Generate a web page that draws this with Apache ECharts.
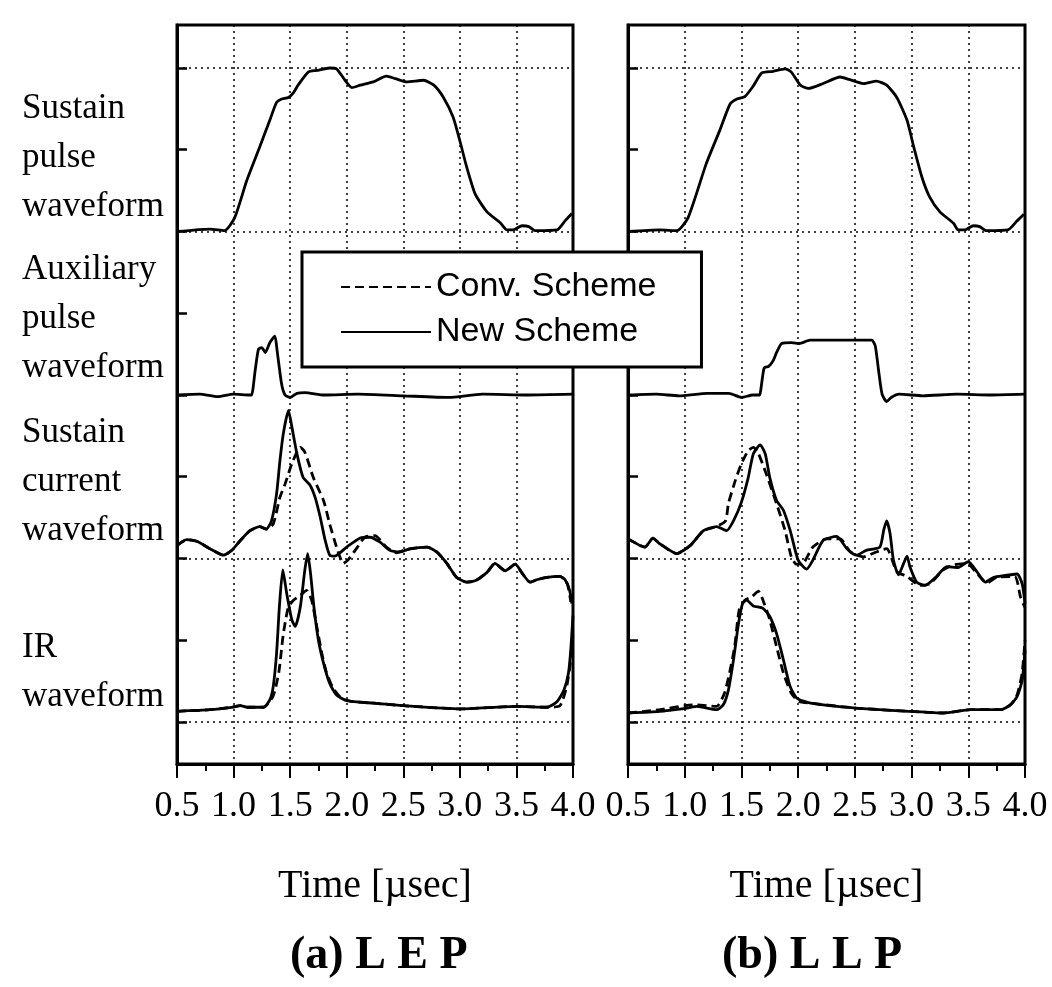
<!DOCTYPE html>
<html>
<head>
<meta charset="utf-8">
<script src="https://cdn.jsdelivr.net/npm/echarts@6/dist/echarts.min.js"></script>
<style>
  html, body { margin: 0; padding: 0; background: #fff; }
  #chart { width: 1052px; height: 987px; }
</style>
</head>
<body>
<div id="chart"></div>
<script>
// time axis tick labels (usec)
const timeTickLabels = ["0.5", "1.0", "1.5", "2.0", "2.5", "3.0", "3.5", "4.0"];

// each trace: [time usec, divisions above its own ground]
// (a) LEP
const lepPulse = [[0.5,0],[0.79,0.03],[0.92,0.01],[1.01,0.17],[1.116,0.62],[1.23,1.03],[1.32,1.36],[1.38,1.58],[1.425,1.62],[1.485,1.64],[1.53,1.7],[1.57,1.79],[1.66,1.95],[1.735,1.97],[1.85,2.0],[1.91,1.99],[1.985,1.85],[2.045,1.76],[2.12,1.79],[2.235,1.83],[2.35,1.9],[2.43,1.87],[2.53,1.83],[2.68,1.85],[2.77,1.79],[2.855,1.64],[2.94,1.4],[3.0,1.11],[3.06,0.79],[3.135,0.46],[3.24,0.24],[3.355,0.11],[3.415,0.02],[3.47,0.02],[3.55,0.07],[3.61,0.06],[3.665,0.01],[3.86,0.02],[3.93,0.13],[3.99,0.22]];
const lepAux = [[0.5,0],[0.7,0.01],[0.86,-0.02],[1.0,0.01],[1.145,0],[1.16,0],[1.19,0.29],[1.22,0.56],[1.25,0.58],[1.28,0.52],[1.32,0.64],[1.365,0.72],[1.385,0.54],[1.425,0.13],[1.455,0],[1.5,-0.03],[1.56,0.02],[1.63,0.03],[1.8,0],[2.1,0.01],[2.5,-0.01],[2.9,-0.03],[3.2,0.01],[3.6,0],[4.0,0.01]];
const lepCurNew = [[0.5,0.16],[0.585,0.23],[0.675,0.21],[0.79,0.12],[0.91,0.04],[0.985,0.1],[1.06,0.22],[1.145,0.34],[1.23,0.39],[1.29,0.36],[1.335,0.46],[1.38,0.79],[1.41,1.2],[1.44,1.53],[1.485,1.81],[1.515,1.61],[1.56,1.28],[1.615,0.99],[1.675,0.9],[1.72,0.75],[1.765,0.51],[1.81,0.22],[1.85,0.04],[1.895,0.03],[2.0,0.14],[2.12,0.25],[2.205,0.26],[2.295,0.2],[2.38,0.1],[2.47,0.08],[2.56,0.12],[2.71,0.14],[2.795,0.08],[2.885,-0.06],[2.97,-0.23],[3.06,-0.29],[3.14,-0.27],[3.24,-0.17],[3.31,-0.06],[3.4,-0.15],[3.49,-0.07],[3.55,-0.18],[3.62,-0.29],[3.68,-0.26],[3.77,-0.23],[3.885,-0.22],[3.93,-0.26],[3.97,-0.39],[3.99,-0.55]];
const lepCurConv = [[0.5,0.16],[0.585,0.23],[0.675,0.21],[0.79,0.12],[0.91,0.04],[0.985,0.1],[1.06,0.22],[1.145,0.34],[1.23,0.39],[1.29,0.36],[1.35,0.42],[1.41,0.75],[1.455,0.91],[1.515,1.16],[1.56,1.3],[1.59,1.36],[1.63,1.3],[1.705,0.99],[1.795,0.71],[1.85,0.42],[1.91,0.14],[1.97,-0.06],[2.01,-0.02],[2.09,0.13],[2.16,0.26],[2.25,0.28],[2.35,0.14],[2.44,0.07],[2.53,0.11],[2.71,0.14],[2.795,0.08],[2.885,-0.06],[2.97,-0.23],[3.06,-0.29],[3.14,-0.27],[3.24,-0.17],[3.31,-0.06],[3.4,-0.15],[3.49,-0.07],[3.55,-0.18],[3.62,-0.29],[3.68,-0.26],[3.77,-0.23],[3.885,-0.22],[3.95,-0.31],[3.98,-0.53]];
const lepIrNew = [[0.5,0.13],[0.79,0.15],[0.985,0.18],[1.06,0.2],[1.12,0.18],[1.265,0.18],[1.32,0.27],[1.35,0.43],[1.38,0.84],[1.405,1.41],[1.435,1.86],[1.47,1.57],[1.515,1.25],[1.545,1.17],[1.59,1.41],[1.63,1.86],[1.655,2.06],[1.68,1.82],[1.71,1.41],[1.75,1.0],[1.795,0.72],[1.85,0.47],[1.91,0.33],[2.0,0.26],[2.24,0.23],[2.5,0.2],[3.0,0.16],[3.5,0.19],[3.77,0.18],[3.86,0.25],[3.92,0.39],[3.96,0.6],[3.98,0.88],[4.0,1.3]];
const lepIrConv = [[0.5,0.13],[0.79,0.15],[0.985,0.18],[1.06,0.2],[1.12,0.18],[1.265,0.18],[1.35,0.32],[1.4,0.61],[1.44,1.08],[1.485,1.41],[1.53,1.49],[1.59,1.55],[1.645,1.61],[1.69,1.49],[1.735,1.17],[1.78,0.84],[1.82,0.61],[1.88,0.41],[1.955,0.29],[2.05,0.25],[2.24,0.23],[2.5,0.2],[3.0,0.16],[3.5,0.19],[3.77,0.18],[3.885,0.2],[3.945,0.44],[3.98,0.76],[4.0,1.1]];

// (b) LLP
const llpPulse = [[0.5,0],[0.78,0.02],[0.93,0.01],[1.03,0.17],[1.19,0.83],[1.31,1.24],[1.4,1.56],[1.46,1.62],[1.53,1.65],[1.6,1.77],[1.68,1.94],[1.78,1.96],[1.885,1.99],[1.94,1.95],[2.02,1.79],[2.09,1.75],[2.22,1.81],[2.37,1.89],[2.45,1.86],[2.575,1.81],[2.69,1.84],[2.78,1.79],[2.87,1.64],[2.96,1.36],[3.02,1.03],[3.09,0.67],[3.16,0.42],[3.25,0.24],[3.37,0.1],[3.41,0.02],[3.47,0.02],[3.545,0.07],[3.6,0.06],[3.66,0.01],[3.85,0.02],[3.93,0.13],[3.99,0.21]];
const llpAux = [[0.5,0],[0.75,0.01],[0.95,-0.01],[1.2,0.02],[1.39,0.02],[1.5,-0.03],[1.6,0],[1.65,0],[1.66,0],[1.7,0.33],[1.74,0.35],[1.78,0.42],[1.81,0.52],[1.855,0.63],[1.94,0.64],[2.01,0.63],[2.105,0.67],[2.25,0.67],[2.4,0.67],[2.575,0.67],[2.65,0.67],[2.68,0.6],[2.71,0.29],[2.74,0.01],[2.78,-0.08],[2.82,-0.03],[2.89,0.01],[3.1,-0.01],[3.4,0.01],[3.7,0],[4.0,0.01]];
const llpCurNew = [[0.5,0.24],[0.605,0.16],[0.65,0.14],[0.72,0.25],[0.78,0.18],[0.93,0.06],[1.05,0.16],[1.165,0.34],[1.28,0.39],[1.37,0.34],[1.43,0.46],[1.5,0.69],[1.56,0.99],[1.605,1.28],[1.665,1.39],[1.71,1.28],[1.75,0.99],[1.81,0.71],[1.87,0.59],[1.93,0.34],[2.0,-0.02],[2.075,-0.13],[2.13,-0.02],[2.22,0.22],[2.34,0.27],[2.43,0.12],[2.515,0.04],[2.6,0.1],[2.72,0.14],[2.755,0.35],[2.78,0.46],[2.81,0.31],[2.84,-0.02],[2.885,-0.2],[2.93,-0.06],[2.96,0.03],[2.985,-0.1],[3.045,-0.29],[3.12,-0.33],[3.22,-0.22],[3.31,-0.1],[3.41,-0.11],[3.5,-0.04],[3.575,-0.16],[3.65,-0.29],[3.725,-0.23],[3.81,-0.21],[3.93,-0.19],[3.975,-0.31],[4.0,-0.55]];
const llpCurConv = [[0.5,0.24],[0.605,0.16],[0.65,0.14],[0.72,0.25],[0.78,0.18],[0.93,0.06],[1.05,0.16],[1.165,0.34],[1.28,0.39],[1.36,0.46],[1.385,0.67],[1.445,0.95],[1.5,1.16],[1.56,1.32],[1.605,1.36],[1.645,1.3],[1.72,1.03],[1.81,0.67],[1.885,0.34],[1.94,0.02],[1.985,-0.07],[2.045,-0.06],[2.13,0.14],[2.25,0.24],[2.37,0.24],[2.46,0.08],[2.575,0.02],[2.69,0.08],[2.78,0.12],[2.87,-0.16],[2.96,-0.22],[3.075,-0.33],[3.16,-0.31],[3.28,-0.14],[3.37,-0.08],[3.49,-0.06],[3.575,-0.18],[3.665,-0.3],[3.75,-0.23],[3.91,-0.22],[3.96,-0.47],[4.0,-0.6]];
const llpIrNew = [[0.5,0.11],[0.78,0.13],[1.02,0.17],[1.11,0.19],[1.28,0.15],[1.34,0.21],[1.385,0.39],[1.43,0.76],[1.475,1.21],[1.51,1.45],[1.545,1.49],[1.605,1.42],[1.69,1.39],[1.75,1.29],[1.81,1.08],[1.87,0.76],[1.93,0.43],[1.99,0.29],[2.11,0.23],[2.51,0.17],[2.99,0.13],[3.28,0.11],[3.52,0.15],[3.79,0.15],[3.87,0.21],[3.93,0.31],[3.975,0.51],[4.0,0.88]];
const llpIrConv = [[0.5,0.11],[0.78,0.15],[1.08,0.21],[1.28,0.19],[1.35,0.35],[1.395,0.6],[1.44,0.92],[1.48,1.37],[1.53,1.49],[1.59,1.53],[1.65,1.6],[1.69,1.49],[1.75,1.25],[1.81,0.92],[1.87,0.6],[1.94,0.35],[2.01,0.25],[2.11,0.23],[2.51,0.17],[2.99,0.13],[3.28,0.11],[3.52,0.15],[3.79,0.15],[3.88,0.22],[3.93,0.33],[3.975,0.6],[4.0,1.0]];

// ground level (in divisions) of each trace in the stacked display
const groundPulse = 6, groundAux = 4, groundCurrent = 2, groundIr = 0;
const gridLevels = [0, 2, 6, 8];
const divTicks = [0, 1, 2, 3, 4, 5, 6, 7, 8];

const chart = echarts.init(document.getElementById("chart"));

const serif = "Liberation Serif";
const shift = (pts, g) => pts.map((p) => [p[0], p[1] + g]);

function trace(name, pts, ground, idx, dashed) {
  return {
    name: name,
    type: "line",
    xAxisIndex: idx,
    yAxisIndex: idx,
    data: shift(pts, ground),
    symbol: "none",
    smooth: 0.2,
    silent: true,
    z: dashed ? 2 : 3,
    itemStyle: { color: "#000" },
    lineStyle: { color: "#000", width: 2.8, type: dashed ? [9, 5] : "solid" },
  };
}

function gridLines(idx) {
  return {
    type: "line",
    xAxisIndex: idx,
    yAxisIndex: idx,
    data: [],
    silent: true,
    markLine: {
      silent: true,
      symbol: "none",
      label: { show: false },
      lineStyle: { color: "#000", type: [2, 4], width: 1.5 },
      data: gridLevels.map((v) => ({ yAxis: v })),
    },
  };
}

function xAxisFor(idx) {
  return {
    type: "value",
    gridIndex: idx,
    min: 0.5,
    max: 4.0,
    interval: 0.5,
    axisLine: { show: true, onZero: false, lineStyle: { color: "#000", width: 3 } },
    axisTick: { show: true, length: 14, lineStyle: { color: "#000", width: 2 } },
    minorTick: { show: true, splitNumber: 2, length: 7, lineStyle: { color: "#000", width: 2 } },
    splitLine: { show: true, lineStyle: { color: "#000", type: [2, 4], width: 1.5 } },
    axisLabel: {
      margin: 25,
      fontFamily: serif,
      fontSize: 36,
      color: "#000",
      showMinLabel: true,
      showMaxLabel: true,
      formatter: (v, i) => timeTickLabels[i],
    },
    name: "Time [µsec]",
    nameLocation: "middle",
    nameGap: 102,
    nameTextStyle: { fontFamily: serif, fontSize: 40, color: "#000" },
  };
}

function yAxisFor(idx) {
  return {
    type: "value",
    gridIndex: idx,
    min: -0.514,
    max: 8.526,
    axisLine: { show: true, onZero: false, lineStyle: { color: "#000", width: 3 } },
    axisTick: { show: true, inside: true, length: 10, customValues: divTicks, lineStyle: { color: "#000", width: 2.5 } },
    axisLabel: { show: false },
    splitLine: { show: false },
  };
}

const sideLabel = (text, top) => ({
  type: "text",
  left: 22,
  top: top,
  style: { text: text, font: '35px "Liberation Serif"', lineHeight: 49, fill: "#000" },
});

const option = {
  animation: false,
  backgroundColor: "#fff",
  grid: [
    { left: 177, top: 25, width: 396, height: 739, show: true, borderColor: "#000", borderWidth: 3 },
    { left: 628, top: 25, width: 397, height: 739, show: true, borderColor: "#000", borderWidth: 3 },
  ],
  xAxis: [xAxisFor(0), xAxisFor(1)],
  yAxis: [yAxisFor(0), yAxisFor(1)],
  legend: {
    data: ["Conv. Scheme", "New Scheme"],
    orient: "vertical",
    left: 302,
    top: 252,
    padding: [18, 45, 18, 38],
    itemGap: 11,
    itemWidth: 90,
    itemHeight: 20,
    backgroundColor: "#fff",
    borderColor: "#000",
    borderWidth: 3,
    borderRadius: 0,
    selectedMode: false,
    z: 10,
    itemStyle: { opacity: 0, borderWidth: 0 },
    textStyle: { fontFamily: "Liberation Sans", fontSize: 34, lineHeight: 34, color: "#000" },
  },
  graphic: [
    sideLabel("Sustain\npulse\nwaveform", 84),
    sideLabel("Auxiliary\npulse\nwaveform", 245),
    sideLabel("Sustain\ncurrent\nwaveform", 408),
    sideLabel("IR\nwaveform", 623),
    { type: "text", left: 290, top: 933, style: { text: "(a) L E P", font: 'bold 46px "Liberation Serif"', fill: "#000" } },
    { type: "text", left: 722, top: 933, style: { text: "(b) L L P", font: 'bold 46px "Liberation Serif"', fill: "#000" } },
  ],
  series: [
    gridLines(0),
    gridLines(1),
    trace("Sustain pulse", lepPulse, groundPulse, 0, false),
    trace("Auxiliary pulse", lepAux, groundAux, 0, false),
    trace("Conv. Scheme", lepCurConv, groundCurrent, 0, true),
    trace("New Scheme", lepCurNew, groundCurrent, 0, false),
    trace("Conv. Scheme", lepIrConv, groundIr, 0, true),
    trace("New Scheme", lepIrNew, groundIr, 0, false),
    trace("Sustain pulse", llpPulse, groundPulse, 1, false),
    trace("Auxiliary pulse", llpAux, groundAux, 1, false),
    trace("Conv. Scheme", llpCurConv, groundCurrent, 1, true),
    trace("New Scheme", llpCurNew, groundCurrent, 1, false),
    trace("Conv. Scheme", llpIrConv, groundIr, 1, true),
    trace("New Scheme", llpIrNew, groundIr, 1, false),
  ],
};

chart.setOption(option);
window.addEventListener("resize", () => chart.resize());
</script>
</body>
</html>
